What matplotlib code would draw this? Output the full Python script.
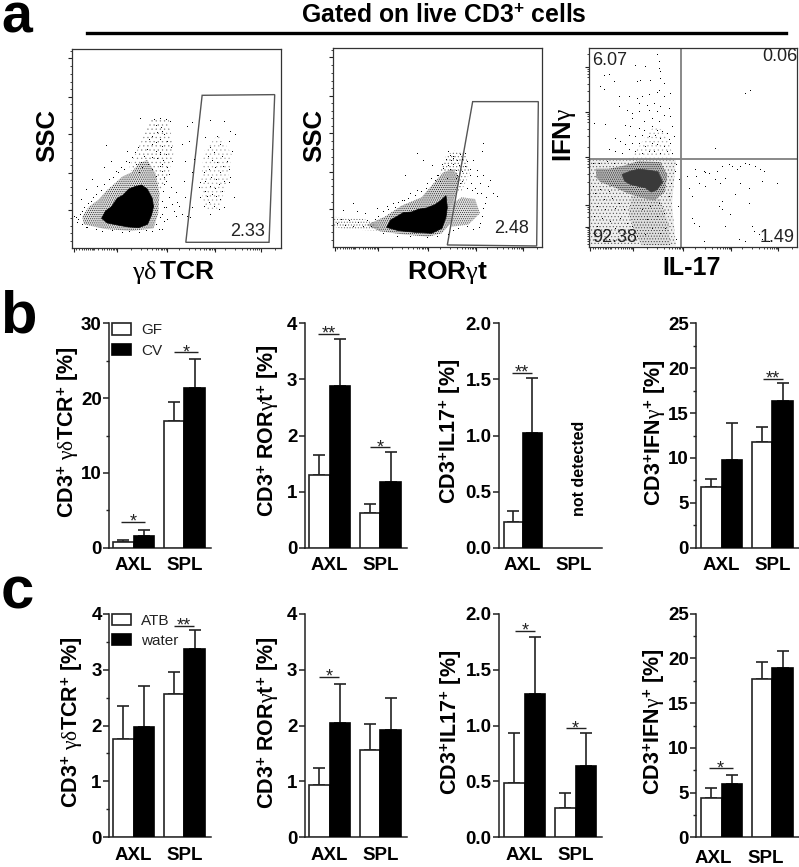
import matplotlib
matplotlib.use("Agg")
import matplotlib.pyplot as plt
import numpy as np
from matplotlib.patches import Polygon

W, H = 799, 867

plt.rcParams["font.family"] = ["Liberation Sans", "DejaVu Sans"]
plt.rcParams["mathtext.fontset"] = "custom"
plt.rcParams["mathtext.bf"] = "Liberation Sans:bold"
plt.rcParams["mathtext.rm"] = "Liberation Sans:bold"
plt.rcParams["mathtext.it"] = "Liberation Serif"
plt.rcParams["hatch.linewidth"] = 0.4

DARK = "#222222"

# bar panels
GROUPS = ["AXL", "SPL"]

b_values = [
    [[0.7, 16.9], [1.5, 21.3]],
    [[1.29, 0.62], [2.88, 1.18]],
    [[0.23, 0.0], [1.02, 0.0]],
    [[6.8, 11.8], [9.8, 16.3]],
]
b_tops = [
    [[1.0, 19.5], [2.3, 25.2]],
    [[1.66, 0.78], [3.72, 1.70]],
    [[0.33, 0.0], [1.51, 0.0]],
    [[7.7, 13.4], [13.9, 18.3]],
]
c_values = [
    [[1.76, 2.56], [1.97, 3.36]],
    [[0.93, 1.56], [2.05, 1.92]],
    [[0.49, 0.26], [1.28, 0.64]],
    [[4.4, 17.7], [6.0, 18.9]],
]
c_tops = [
    [[2.35, 2.95], [2.70, 3.70]],
    [[1.24, 2.02], [2.75, 2.49]],
    [[0.93, 0.40], [1.79, 0.93]],
    [[5.5, 19.6], [7.0, 20.8]],
]
b_sig = [
    [(-0.25, 0.22, 3.5, "*"), (0.79, 1.27, 26.1, "*")],
    [(-0.23, 0.19, 3.81, "**"), (0.80, 1.20, 1.79, "*")],
    [(-0.20, 0.18, 1.56, "**")],
    [(0.82, 1.21, 18.8, "**")],
]
c_sig = [
    [(0.80, 1.20, 3.78, "**")],
    [(-0.20, 0.19, 2.87, "*")],
    [(-0.19, 0.20, 1.845, "*"), (0.80, 1.20, 0.975, "*")],
    [(-0.25, 0.22, 7.7, "*")],
]
y_max = [30, 4, 2.0, 25]
c_y_max = [4, 4, 2.0, 25]
b_ticks = [[0, 10, 20, 30], [0, 1, 2, 3, 4], [0, 0.5, 1.0, 1.5, 2.0], [0, 5, 10, 15, 20, 25]]
b_minor = [[5, 15, 25], [], [], [2.5, 7.5, 12.5, 17.5, 22.5]]
c_ticks = [[0, 1, 2, 3, 4], [0, 1, 2, 3, 4], [0, 0.5, 1.0, 1.5, 2.0], [0, 5, 10, 15, 20, 25]]
c_minor = [[0.5, 1.5, 2.5, 3.5], [], [], [2.5, 7.5, 12.5, 17.5, 22.5]]
tick_fmt = ["%d", "%d", "%.1f", "%d"]

b_labels = [r"CD3$^{\mathbf{+}}$ $\gamma\delta$TCR$^{\mathbf{+}}$ [%]",
            r"CD3$^{\mathbf{+}}$ ROR$\gamma$t$^{\mathbf{+}}$ [%]",
            r"CD3$^{\mathbf{+}}$IL17$^{\mathbf{+}}$ [%]",
            r"CD3$^{\mathbf{+}}$IFN$\gamma^{\mathbf{+}}$ [%]"]

# flow plots, channel units, one box is 626 x 597 channels
gd_core = [(88, 90), (100, 112), (118, 125), (135, 150), (153, 160), (170, 178), (188, 185), (208, 190), (225, 178), (240, 150),
           (244, 125), (238, 100), (226, 72), (200, 62), (168, 64), (135, 70), (105, 76)]
gd_halo = [(30, 95), (50, 125), (78, 145), (105, 175), (128, 195), (150, 215), (178, 228), (200, 255), (225, 265), (250, 225),
           (262, 165), (258, 105), (244, 60), (178, 52), (98, 58), (35, 72)]
gd_plume = [(170, 240), (205, 315), (235, 385), (290, 385), (305, 290), (285, 205), (262, 160)]
gd_side = [(385, 185), (395, 290), (440, 345), (480, 280), (465, 195), (440, 120), (400, 115)]
gd_dots = [(204, 388), (245, 385), (262, 388), (280, 385), (293, 378), (252, 368), (265, 360), (270, 350), (255, 345), (275, 340),
           (240, 335), (230, 325), (262, 325), (285, 320), (250, 315), (238, 310), (270, 305), (295, 300), (225, 295), (250, 290),
           (262, 285), (280, 280), (215, 275), (240, 270), (255, 268), (272, 262), (298, 258), (205, 255), (228, 250), (262, 245),
           (285, 240), (190, 250), (210, 240), (240, 235), (268, 228), (290, 220), (200, 225), (250, 215), (275, 210), (160, 260),
           (165, 290), (100, 308), (295, 180), (310, 165), (275, 190), (290, 150), (300, 130), (282, 120), (270, 100), (285, 85),
           (305, 110), (320, 125), (115, 260), (130, 230), (95, 240), (60, 205), (75, 185), (40, 175), (25, 145), (55, 140),
           (10, 90), (18, 85), (5, 95), (30, 70), (45, 60), (90, 48), (150, 45), (220, 52), (240, 50), (270, 55), (275, 80),
           (330, 310), (350, 320), (340, 260), (335, 200), (365, 265), (360, 225), (340, 150), (315, 135), (310, 95), (330, 100),
           (345, 95), (355, 90), (345, 365), (360, 375), (415, 382), (455, 380), (475, 350), (490, 340), (400, 330), (435, 335),
           (470, 320), (415, 300), (445, 310), (480, 290), (408, 275), (425, 285), (450, 275), (465, 260), (420, 262), (435, 255),
           (452, 245), (470, 235), (395, 225), (410, 235), (430, 240), (445, 225), (475, 212), (385, 195), (400, 200), (418, 210),
           (432, 205), (455, 200), (470, 195), (380, 180), (398, 170), (415, 185), (428, 178), (440, 190), (450, 170), (385, 150),
           (405, 155), (420, 160), (432, 155), (445, 145), (395, 125), (410, 135), (425, 125), (440, 115), (415, 100), (455, 120),
           (485, 150), (360, 120), (22, 100), (28, 110), (35, 120), (48, 132), (62, 150), (72, 160), (85, 172), (95, 190),
           (110, 205), (122, 212), (138, 225), (145, 240), (155, 235), (170, 255), (178, 270), (188, 285), (196, 300), (262, 280),
           (268, 250), (280, 200), (272, 170), (268, 140), (275, 120), (262, 90), (250, 70), (260, 55), (200, 45), (170, 48),
           (120, 52), (70, 55), (40, 62), (15, 75)]
gd_gate = [(390, 459), (608, 461), (591, 18), (341, 18)]

ror_core = [(160, 60), (172, 82), (190, 92), (210, 104), (235, 106), (255, 114), (280, 118), (305, 128), (322, 140), (338, 155), (342, 120), (338, 90),
            (326, 57), (295, 42), (245, 45), (195, 50)]
ror_halo = [(100, 67), (155, 92), (205, 125), (265, 150), (295, 185), (330, 225), (360, 235), (378, 205), (362, 142), (352, 72), (325, 42), (285, 32), (215, 38), (140, 48)]
ror_side = [(350, 127), (385, 150), (425, 145), (440, 102), (405, 68), (355, 62)]
ror_plume = [(320, 225), (335, 270), (360, 290), (395, 285), (410, 225), (385, 170), (350, 170)]
ror_tail = [(0, 92), (40, 88), (90, 85), (120, 75), (145, 50), (80, 52), (30, 55), (0, 62)]
ror_dots = [(345, 285), (350, 275), (358, 272), (380, 278), (395, 280), (360, 265), (372, 258), (385, 262), (400, 255), (345, 245),
            (360, 248), (378, 243), (395, 240), (410, 232), (330, 235), (350, 232), (368, 228), (385, 225), (410, 215), (430, 210),
            (450, 215), (445, 285), (420, 260), (250, 280), (270, 258), (215, 215), (450, 310), (295, 245), (305, 200), (280, 190),
            (250, 170), (230, 160), (205, 140), (180, 130), (160, 120), (130, 115), (60, 130), (30, 110), (95, 100), (70, 105),
            (440, 190), (465, 180), (480, 160), (455, 130), (445, 90), (440, 70), (400, 60), (375, 55), (385, 195), (400, 175),
            (415, 170), (430, 160), (370, 215), (340, 205), (320, 195), (315, 215), (430, 230), (470, 200), (490, 150), (150, 40),
            (190, 30), (230, 32), (280, 28), (310, 30), (10, 70), (22, 82), (35, 65), (48, 78), (60, 60), (75, 72), (88, 62), (100, 78),
            (112, 60), (125, 82), (135, 92), (148, 105), (165, 112), (185, 118), (195, 132), (212, 138), (225, 145), (245, 155),
            (262, 165), (278, 175), (292, 205), (310, 215), (325, 248), (338, 262), (352, 258), (368, 205), (380, 190), (412, 190),
            (425, 175), (442, 160), (458, 148), (448, 115), (436, 58), (420, 52), (360, 48), (345, 38)]
ror_gate = [(418, 437), (615, 437), (610, 4), (342, 7)]

ifn_core = [(100, 218), (125, 228), (150, 234), (185, 230), (208, 226), (222, 195), (205, 172), (188, 165), (170, 178), (150, 182), (125, 188), (108, 198)]
ifn_mid = [(22, 235), (60, 235), (100, 243), (150, 258), (215, 255), (236, 215), (228, 165), (198, 140), (170, 145), (120, 160), (80, 178), (35, 195), (22, 210)]
ifn_low = [(3, 262), (262, 262), (250, 130), (262, 3), (3, 3)]
ifn_lower_plume = [(130, 160), (120, 100), (140, 40), (160, 5), (245, 5), (240, 70), (220, 125), (205, 150)]
ifn_plume = [(120, 264), (150, 300), (175, 340), (195, 360), (230, 350), (245, 300), (255, 264)]
ifn_dots = [(205, 578), (210, 555), (212, 535), (215, 525), (140, 545), (170, 540), (45, 515), (60, 517), (145, 495), (155, 498),
            (185, 500), (215, 505), (225, 490), (35, 480), (45, 472), (75, 495), (210, 470), (90, 450), (120, 450), (145, 445),
            (160, 450), (180, 458), (205, 462), (225, 452), (245, 460), (150, 430), (175, 425), (195, 430), (215, 420), (90, 420),
            (115, 410), (130, 400), (150, 405), (180, 410), (205, 405), (225, 395), (240, 415), (130, 385), (165, 375), (190, 385),
            (210, 375), (245, 390), (15, 370), (50, 368), (110, 365), (125, 360), (150, 355), (165, 350), (190, 360), (205, 350),
            (220, 345), (235, 340), (250, 360), (120, 335), (140, 330), (160, 335), (180, 330), (200, 335), (215, 325), (240, 320),
            (255, 330), (80, 325), (95, 315), (110, 305), (130, 310), (150, 310), (170, 300), (190, 310), (205, 305), (225, 300),
            (245, 310), (60, 290), (80, 285), (100, 280), (120, 290), (140, 285), (160, 280), (180, 285), (195, 285), (215, 280),
            (235, 285), (250, 280), (484, 468), (469, 461), (379, 294),
            (320, 230), (345, 225), (322, 210), (350, 222), (360, 220), (385, 225), (400, 240), (420, 245), (430, 240), (445, 232),
            (455, 240), (470, 250), (480, 245), (500, 240), (515, 230), (525, 225), (330, 190), (350, 180), (380, 200), (395, 190),
            (410, 205), (455, 190), (480, 175), (520, 195), (565, 190), (295, 210), (300, 175), (310, 150), (400, 135), (390, 120),
            (440, 155), (480, 130), (410, 60), (310, 85), (330, 60), (315, 70), (345, 15), (470, 15), (450, 20), (490, 60),
            (495, 45), (510, 35), (520, 20), (540, 15), (400, 110), (425, 95),
            (12, 250), (30, 248), (55, 255), (75, 250), (12, 180), (20, 160), (35, 170), (60, 165), (45, 140), (70, 145), (90, 130),
            (25, 120), (50, 110), (80, 115), (105, 110), (15, 90), (40, 85), (65, 75), (95, 85), (115, 70), (25, 60), (50, 50),
            (80, 55), (105, 45), (130, 60), (20, 35), (60, 20), (95, 15), (120, 20), (145, 30), (170, 35), (190, 55), (215, 40),
            (228, 55), (175, 80), (205, 90), (225, 100), (160, 110), (185, 120), (210, 130), (240, 150), (248, 190), (258, 225),
            (262, 245), (270, 200), (268, 120), (262, 20)]
ifn_divide = (277, 264)

x_major = [5, 133, 283, 428, 568]
x_minor = [12, 20, 28, 35, 42, 48, 53, 58, 63, 66, 78, 88, 96, 104, 110, 116, 121, 126, 130,
           175, 205, 225, 240, 250, 258, 265, 270, 275, 280,
           320, 350, 370, 385, 395, 403, 410, 415, 420, 425,
           460, 490, 510, 525, 535, 543, 550, 556, 562, 566, 610]
ssc_major = [114, 227, 343, 455, 570]
ssc_minor = [23, 46, 68, 91, 137, 160, 183, 205, 250, 272, 295, 320, 365, 388, 410, 433, 478, 500, 523, 547, 592]
ifn_major = [61, 126, 271, 406, 541]
ifn_minor = [10, 18, 25, 33, 40, 46, 52, 57, 90, 105, 115, 120, 160, 195, 220, 240, 250, 258, 264,
             300, 335, 355, 375, 385, 393, 400, 440, 470, 490, 510, 520, 528, 535, 580]


fig = plt.figure(figsize=(W / 100, H / 100), dpi=100)


def px_axes(left, right, top, bottom):
    return fig.add_axes([left / W, 1 - bottom / H, (right - left) / W, (bottom - top) / H])


def px_text(x, y, s, **kw):
    kw.setdefault("ha", "center")
    kw.setdefault("va", "center")
    kw.setdefault("fontweight", "bold")
    fig.text(x / W, 1 - y / H, s, **kw)


def flow_axes(left, right, top, bottom, y_major, y_minor):
    ax = px_axes(left, right, top, bottom)
    ax.set_xlim(0, 626)
    ax.set_ylim(0, 597)
    ax.set_xticks(x_major)
    ax.set_xticks(x_minor, minor=True)
    ax.set_yticks(y_major)
    ax.set_yticks(y_minor, minor=True)
    ax.tick_params(which="major", length=3, width=0.8, color=DARK, labelbottom=False, labelleft=False)
    ax.tick_params(which="minor", length=1.6, width=0.6, color=DARK)
    for s in ax.spines.values():
        s.set_linewidth(0.9)
        s.set_color("#333333")
    return ax


def stipple(ax, pts, hatch, color="black", face="none"):
    ax.add_patch(Polygon(pts, closed=True, facecolor=face, edgecolor=color, linewidth=0, hatch=hatch))


def solid(ax, pts, color="black"):
    ax.add_patch(Polygon(pts, closed=True, facecolor=color, edgecolor=color, linewidth=0.5))


def dots(ax, pts):
    arr = np.array(pts)
    ax.plot(arr[:, 0], arr[:, 1], ",", color="black")


def gate(ax, pts):
    ax.add_patch(Polygon(pts, closed=True, facecolor="none", edgecolor="#555555", linewidth=1))


def bar_panel(left, right, top, bottom, c0, c1, bw, values, tops, sig, ymax, ticks, minor, fmt, xt=(0, 1), pad=7):
    ax = px_axes(left, right, top, bottom)
    d = c1 - c0
    ax.set_xlim((left - c0) / d, (right - c0) / d)
    ax.set_ylim(0, ymax)
    w = bw / d
    x = np.arange(2)
    for k, (val, topv) in enumerate(zip(values, tops)):
        xs = x - w / 2 if k == 0 else x + w / 2
        color = "white" if k == 0 else "black"
        keep = [i for i in x if val[i] > 0]
        ax.bar(xs[keep], [val[i] for i in keep], w, color=color, edgecolor=DARK if k == 0 else "black", linewidth=1.2, zorder=3)
        ax.errorbar(xs[keep], [val[i] for i in keep],
                    yerr=[[0] * len(keep), [topv[i] - val[i] for i in keep]],
                    fmt="none", ecolor=DARK, elinewidth=1.2, capsize=4, capthick=1.2, zorder=2)
    for x0, x1, y, star in sig:
        ax.plot([x0, x1], [y, y], color=DARK, lw=1, solid_capstyle="butt", clip_on=False)
        ax.annotate(star, ((x0 + x1) / 2, y), xytext=(0, -3.5), textcoords="offset points",
                    ha="center", va="baseline", fontsize=13, color=DARK)
    ax.spines["top"].set_visible(False)
    ax.spines["right"].set_visible(False)
    ax.spines["left"].set_linewidth(1.1)
    ax.spines["bottom"].set_linewidth(1.1)
    ax.spines["left"].set_color(DARK)
    ax.spines["bottom"].set_color(DARK)
    ax.set_xticks(list(xt), GROUPS, fontweight="bold", fontsize=13.5)
    ax.set_yticks(ticks, [fmt % t for t in ticks], fontweight="bold", fontsize=13.5)
    if minor:
        ax.set_yticks(minor, minor=True)
    ax.tick_params(axis="x", length=0, pad=pad)
    ax.tick_params(axis="y", which="major", length=4, width=1.1, color=DARK, pad=1.5)
    ax.tick_params(axis="y", which="minor", length=2.5, width=1, color=DARK)
    return ax


def group_legend(ax, names):
    bars = ax.containers
    ax.legend([bars[0], bars[2]], names, loc="upper left", bbox_to_anchor=(0.025, 1.0),
              frameon=False, fontsize=11, handlelength=1.25, handleheight=0.76, labelspacing=0.42,
              handletextpad=0.65, borderpad=0, borderaxespad=0, labelcolor=DARK)


# panel a
ax = flow_axes(72.3, 280.7, 49.3, 248.3, ssc_major, ssc_minor)
stipple(ax, gd_plume, "....", color="#888888")
stipple(ax, gd_side, "....", color="#aaaaaa")
stipple(ax, gd_halo, "........", color="#111111", face="#dddddd")
solid(ax, gd_core)
dots(ax, gd_dots)
gate(ax, gd_gate)
ax.text(527, 50, "2.33", ha="center", va="center", fontsize=13, color=DARK)

ax = flow_axes(333.3, 542, 48.3, 247.3, ssc_major, ssc_minor)
stipple(ax, ror_plume, ".....", color="#666666")
stipple(ax, ror_halo, "........", color="#111111", face="#d4d4d4")
stipple(ax, ror_side, "........", color="#222222", face="#e0e0e0")
stipple(ax, ror_tail, "......", color="#666666")
solid(ax, ror_core)
dots(ax, ror_dots)
gate(ax, ror_gate)
ax.text(535, 56, "2.48", ha="center", va="center", fontsize=13, color=DARK)

ax = flow_axes(588.7, 797.3, 48.3, 247, ifn_major, ifn_minor)
stipple(ax, ifn_low, ".....", color="#555555", face="#eeeeee")
stipple(ax, ifn_lower_plume, "......", color="#333333", face="#dddddd")
stipple(ax, ifn_plume, "....", color="#aaaaaa")
stipple(ax, ifn_mid, "........", color="#111111", face="#b8b8b8")
solid(ax, ifn_core, color="#3a3a3a")
dots(ax, ifn_dots)
ax.axvline(ifn_divide[0], color="#808080", lw=1.3)
ax.axhline(ifn_divide[1], color="#808080", lw=1.3)
ax.text(62, 561, "6.07", ha="center", va="center", fontsize=13, color=DARK)
ax.text(574, 571, "0.06", ha="center", va="center", fontsize=13, color=DARK)
ax.text(79, 29, "92.38", ha="center", va="center", fontsize=13, color=DARK)
ax.text(564, 29, "1.49", ha="center", va="center", fontsize=13, color=DARK)

px_text(47, 136, "SSC", rotation=90, fontsize=18.5)
px_text(314, 135, "SSC", rotation=90, fontsize=18.5)
px_text(174, 272, r"$\gamma\delta\,\mathbf{TCR}$", fontsize=19)
px_text(447, 272, r"$\mathbf{ROR}\gamma\mathbf{t}$", fontsize=19)
px_text(565, 135, r"$\mathbf{IFN}\gamma$", rotation=90, fontsize=18.5)
px_text(692, 268, "IL-17", fontsize=18)

px_text(444, 15, r"Gated on live CD3$^{\mathbf{+}}$ cells", fontsize=17.8)
fig.add_artist(plt.Line2D([87 / W, 786 / W], [1 - 33 / H, 1 - 33 / H], color="black", lw=2.4))

px_text(1, 32.7, "a", ha="left", va="baseline", fontsize=40)
px_text(0, 332.7, "b", ha="left", va="baseline", fontsize=43)
px_text(1, 608.7, "c", ha="left", va="baseline", fontsize=43)

# panel b
b_geom = [(109.3, 210.7, 133.7, 184.3, 20.5), (305, 406.7, 329.5, 380.3, 20.5),
          (499.3, 602.3, 522.5, 574, 19), (696.3, 799, 721.5, 772.3, 20.5)]
for i, (l, r, c0, c1, bw) in enumerate(b_geom):
    ax = bar_panel(l, r, 323.3, 547.7, c0, c1, bw, b_values[i], b_tops[i], b_sig[i],
                   y_max[i], b_ticks[i], b_minor[i], tick_fmt[i])
    if i == 0:
        group_legend(ax, ["GF", "CV"])

# panel c
c_geom = [(109.3, 210.7, 133.7, 184.3, 20.5), (305, 406.7, 329.5, 380.3, 20.5),
          (499.3, 602, 524.7, 575.7, 20.5), (696.3, 799, 721.5, 772.3, 20.5)]
for i, (l, r, c0, c1, bw) in enumerate(c_geom):
    xt = (-0.16, 0.88) if i == 3 else (0, 1)
    ax = bar_panel(l, r, 613.7, 837.3, c0, c1, bw, c_values[i], c_tops[i], c_sig[i],
                   c_y_max[i], c_ticks[i], c_minor[i], tick_fmt[i], xt=xt, pad=9 if i == 3 else 7)
    if i == 0:
        group_legend(ax, ["ATB", "water"])

for x, y, s in zip([68, 268, 450, 655], [431.7, 431, 431.6, 432.5], b_labels):
    px_text(x, y, s, rotation=90, fontsize=15.5)
for x, y, s in zip([72.7, 268, 451.7, 654], [722, 723, 722, 722], b_labels):
    px_text(x, y, s, rotation=90, fontsize=15.5)
px_text(580, 468, "not detected", rotation=90, fontsize=11.5)

fig.savefig("out.png", dpi=100)
